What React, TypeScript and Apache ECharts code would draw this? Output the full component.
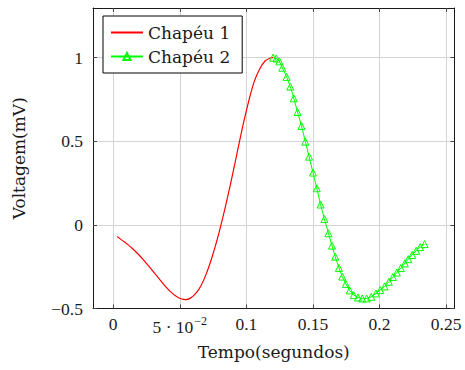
import React, { useEffect, useRef } from "react";
import * as echarts from "echarts";

const redT = [0.003, 0.007, 0.011, 0.015, 0.019, 0.023, 0.027, 0.031, 0.035, 0.039, 0.043, 0.047, 0.051, 0.0545, 0.058, 0.062, 0.066, 0.07, 0.074, 0.078, 0.082, 0.086, 0.09, 0.094, 0.098, 0.102, 0.106, 0.11, 0.114, 0.118, 0.12];
const redV = [-0.07, -0.094, -0.118, -0.146, -0.177, -0.212, -0.25, -0.289, -0.328, -0.366, -0.399, -0.425, -0.442, -0.447, -0.438, -0.41, -0.362, -0.29, -0.198, -0.09, 0.034, 0.17, 0.316, 0.468, 0.616, 0.748, 0.86, 0.932, 0.98, 0.998, 1.0];

const greenT = [0.12, 0.1225, 0.1248, 0.127, 0.1302, 0.133, 0.1356, 0.1384, 0.1414, 0.1443, 0.1471, 0.15, 0.1529, 0.1557, 0.1586, 0.1616, 0.1643, 0.1667, 0.1695, 0.172, 0.1747, 0.1776, 0.1806, 0.1838, 0.187, 0.1903, 0.1938, 0.1973, 0.2005, 0.2038, 0.207, 0.21, 0.213, 0.216, 0.219, 0.2215, 0.2245, 0.2275, 0.2305, 0.2338];
const greenV = [1.0, 0.995, 0.978, 0.94, 0.885, 0.827, 0.757, 0.675, 0.592, 0.498, 0.408, 0.313, 0.219, 0.122, 0.035, -0.05, -0.124, -0.19, -0.257, -0.309, -0.353, -0.392, -0.42, -0.434, -0.44, -0.44, -0.43, -0.41, -0.39, -0.368, -0.34, -0.312, -0.285, -0.258, -0.23, -0.205, -0.18, -0.155, -0.133, -0.115];

const xTicks = [0, 0.05, 0.1, 0.15, 0.2, 0.25];
const yTicks = [-0.5, 0, 0.5, 1];
const seriesNames = ["Chapéu 1", "Chapéu 2"];
const xTitle = "Tempo(segundos)";
const yTitle = "Voltagem(mV)";

const NUM_FONT = "Liberation Serif";
const TXT_FONT = "DejaVu Serif";
const INK = "#1a1a1a";

function fmtX(v: number): string {
  if (Math.abs(v - 0.05) < 1e-9) return "{b|5 · 10}{s|−2}";
  return "{b|" + String(Number(v.toFixed(4))) + "}";
}
function fmtY(v: number): string {
  const s = String(Number(v.toFixed(4)));
  return s.replace("-", "−");
}

export default function App() {
  const ref = useRef<HTMLDivElement>(null);
  useEffect(() => {
    if (!ref.current) return;
    const chart = echarts.init(ref.current, null, { renderer: "svg" });
    const xMin = -0.0152;
    const xMax = 0.2563;
    const yMin = -0.5;
    const yMax = 1.297;
    const axisLine = { show: true, onZero: false, lineStyle: { color: INK, width: 1 } };
    const tickStyle = { color: "#444", width: 1 };
    chart.setOption({
      animation: false,
      backgroundColor: "#fff",
      grid: { left: 93, top: 8, right: 10.5, bottom: 61.5, containLabel: false },
      legend: {
        data: [
          { name: seriesNames[0], itemStyle: { color: "rgba(0,0,0,0)", borderColor: "rgba(0,0,0,0)", borderWidth: 0 } },
          { name: seriesNames[1] },
        ],
        left: 103,
        top: 16,
        orient: "vertical",
        backgroundColor: "#fff",
        borderColor: "#000",
        borderWidth: 1,
        padding: [8, 12, 8, 7],
        itemWidth: 32,
        itemHeight: 9,
        itemGap: 7,
        textStyle: { fontFamily: TXT_FONT, fontSize: 17, color: INK },
      },
      xAxis: [
        {
          type: "value",
          min: xMin,
          max: xMax,
          position: "bottom",
          axisLine,
          axisTick: { show: true, inside: true, length: 4, customValues: xTicks, lineStyle: tickStyle },
          axisLabel: {
            customValues: xTicks,
            formatter: fmtX,
            margin: 6,
            color: INK,
            fontFamily: NUM_FONT,
            fontSize: 17.5,
            rich: {
              b: { fontFamily: NUM_FONT, fontSize: 17.5, color: INK, verticalAlign: "bottom" },
              s: { fontFamily: NUM_FONT, fontSize: 12, color: INK, verticalAlign: "bottom", padding: [0, 0, 9, 1] },
            },
          },
          splitLine: { show: true, customValues: xTicks, lineStyle: { color: "#d3d3d3", width: 1 } },
          name: xTitle,
          nameLocation: "middle",
          nameGap: 35,
          nameTextStyle: { fontFamily: TXT_FONT, fontSize: 17, color: INK },
        },
        {
          type: "value",
          min: xMin,
          max: xMax,
          position: "top",
          axisLine,
          axisTick: { show: true, inside: true, length: 4, customValues: xTicks, lineStyle: tickStyle },
          axisLabel: { show: false },
          splitLine: { show: false },
        },
      ],
      yAxis: [
        {
          type: "value",
          min: yMin,
          max: yMax,
          position: "left",
          axisLine,
          axisTick: { show: true, inside: true, length: 4, customValues: yTicks, lineStyle: tickStyle },
          axisLabel: {
            customValues: yTicks,
            formatter: fmtY,
            margin: 10,
            color: INK,
            fontFamily: NUM_FONT,
            fontSize: 17.5,
          },
          splitLine: { show: true, customValues: yTicks, lineStyle: { color: "#d3d3d3", width: 1 } },
          name: yTitle,
          nameLocation: "middle",
          nameGap: 66,
          nameTextStyle: { fontFamily: TXT_FONT, fontSize: 17, color: INK },
        },
        {
          type: "value",
          min: yMin,
          max: yMax,
          position: "right",
          axisLine,
          axisTick: { show: true, inside: true, length: 4, customValues: yTicks, lineStyle: tickStyle },
          axisLabel: { show: false },
          splitLine: { show: false },
        },
      ],
      series: [
        {
          name: seriesNames[0],
          type: "line",
          xAxisIndex: 0,
          yAxisIndex: 0,
          data: redT.map((t, i) => [t, redV[i]]),
          showSymbol: false,
          symbol: "none",
          smooth: 0.3,
          lineStyle: { color: "#ff0000", width: 1.2 },
          itemStyle: { color: "#ff0000" },
          z: 2,
        },
        {
          name: seriesNames[1],
          type: "line",
          xAxisIndex: 0,
          yAxisIndex: 0,
          data: greenT.map((t, i) => [t, greenV[i]]),
          symbol: "triangle",
          symbolSize: 7,
          showSymbol: true,
          lineStyle: { color: "#00ff00", width: 1 },
          itemStyle: { color: "rgba(255,255,255,0)", borderColor: "#00ff00", borderWidth: 1 },
          z: 3,
        },
      ],
    });
    return () => chart.dispose();
  }, []);
  return (
    <div
      ref={ref}
      style={{ position: "fixed", left: 0, top: 0, width: 465, height: 370, background: "#fff" }}
    />
  );
}
